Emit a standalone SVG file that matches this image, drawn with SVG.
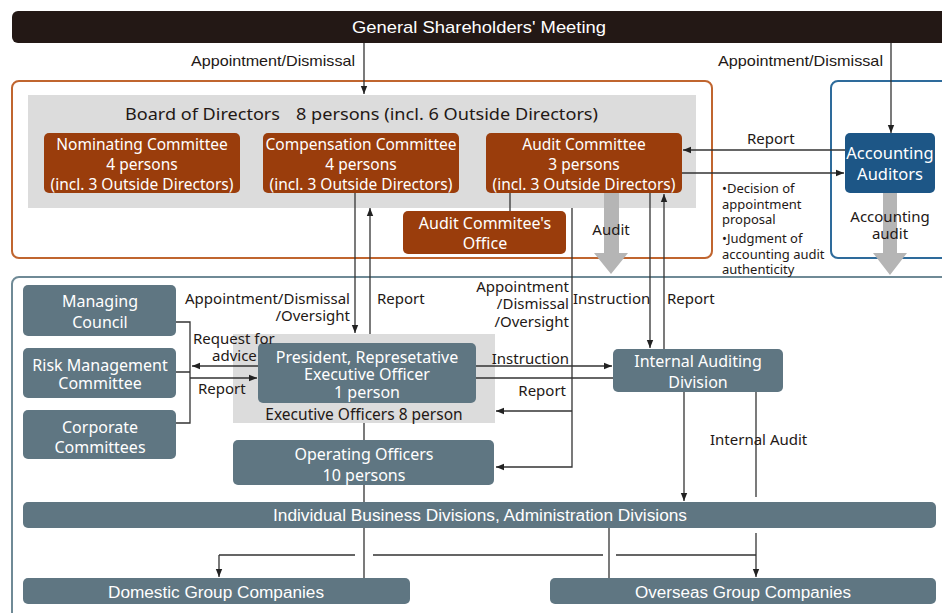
<svg xmlns="http://www.w3.org/2000/svg" width="942" height="613" viewBox="0 0 942 613">
<defs>
<marker id="ah" viewBox="0 0 10 10" refX="10" refY="5" markerWidth="8" markerHeight="8" markerUnits="userSpaceOnUse" orient="auto">
<path d="M0,1 L10,5 L0,9 Z" fill="#222"/>
</marker>
</defs>
<style>
.ln{fill:none;stroke:#333;stroke-width:1.3}
.arr{fill:none;stroke:#333;stroke-width:1.3;marker-end:url(#ah)}
.or{fill:#9a3d0c}
.sl{fill:#5f7682}
.wt{fill:#fff;font-family:"Noto Sans","Liberation Sans",sans-serif;font-size:16px;text-anchor:middle}
.ow{font-size:15.5px}
.dk{fill:#231815;font-family:"Noto Sans","Liberation Sans",sans-serif;font-size:15px}
.bl{font-size:13px}
.cn{font-family:"Liberation Sans",Arial,sans-serif;font-size:16px}
.mid{text-anchor:middle}
.end{text-anchor:end}
.ga{fill:#b5b5b5}
</style>

<g id="shareholders">
<rect x="12" y="11" width="940" height="32" rx="6" fill="#231815"/>
<text class="cn mid" x="479" y="33" fill="#fff" style="font-size:17px" textLength="254" lengthAdjust="spacingAndGlyphs">General Shareholders' Meeting</text>
</g>

<g id="board-frame">
<rect x="12" y="81" width="700" height="177" rx="7" fill="none" stroke="#c0652f" stroke-width="2"/>
<rect x="28" y="95" width="668" height="113" fill="#dcdcdc"/>
<text class="dk" x="125" y="120" style="font-size:17px" textLength="155" lengthAdjust="spacingAndGlyphs">Board of Directors</text>
<text class="dk" x="296" y="120" style="font-size:17px" textLength="302" lengthAdjust="spacingAndGlyphs">8 persons (incl. 6 Outside Directors)</text>
</g>

<g id="auditor-frame">
<rect x="831" y="81" width="130" height="177" rx="7" fill="none" stroke="#2e6b9b" stroke-width="2"/>
</g>

<g id="exec-frame">
<rect x="12" y="277" width="950" height="350" rx="7" fill="none" stroke="#6f8a96" stroke-width="2"/>
</g>

<g id="gray-arrows">
<polygon class="ga" points="604,193 619,193 619,253 628,253 611,274 594,253 604,253"/>
<polygon class="ga" points="883,193 897,193 897,253 907,253 890,275 873,253 883,253"/>
</g>

<g id="nominating">
<rect class="or" x="44" y="133" width="196" height="60" rx="5"/>
<text class="wt ow" x="142" y="149.5">Nominating Committee</text>
<text class="wt ow" x="142" y="169.5">4 persons</text>
<text class="wt ow" x="142" y="189.5">(incl. 3 Outside Directors)</text>
</g>
<g id="compensation">
<rect class="or" x="263" y="133" width="196" height="60" rx="5"/>
<text class="wt ow" x="361" y="149.5">Compensation Committee</text>
<text class="wt ow" x="361" y="169.5">4 persons</text>
<text class="wt ow" x="361" y="189.5">(incl. 3 Outside Directors)</text>
</g>
<g id="audit-committee">
<rect class="or" x="486" y="133" width="196" height="60" rx="5"/>
<text class="wt ow" x="584" y="149.5">Audit Committee</text>
<text class="wt ow" x="584" y="169.5">3 persons</text>
<text class="wt ow" x="584" y="189.5">(incl. 3 Outside Directors)</text>
</g>
<g id="audit-office">
<rect class="or" x="403" y="211" width="163" height="43" rx="5"/>
<text class="wt" x="485" y="228.5">Audit Commitee's</text>
<text class="wt" x="485" y="248.5">Office</text>
</g>
<g id="accounting-auditors">
<rect x="845" y="133" width="90" height="60" rx="5" fill="#1d5686"/>
<text class="wt" x="890" y="159" style="font-size:16.5px">Accounting</text>
<text class="wt" x="890" y="180" style="font-size:16.5px">Auditors</text>
</g>

<g id="managing-council">
<rect class="sl" x="23" y="285" width="153" height="51" rx="5"/>
<text class="wt" x="100" y="306.5">Managing</text>
<text class="wt" x="100" y="327.5">Council</text>
</g>
<g id="risk-management">
<rect class="sl" x="23" y="348" width="153" height="50" rx="5"/>
<text class="wt" x="100" y="370.5">Risk Management</text>
<text class="wt" x="100" y="388.5">Committee</text>
</g>
<g id="corporate-committees">
<rect class="sl" x="23" y="410" width="153" height="49" rx="5"/>
<text class="wt" x="100" y="432.5">Corporate</text>
<text class="wt" x="100" y="452.5">Committees</text>
</g>

<g id="executive-officers">
<rect x="233" y="334" width="262" height="89" fill="#dcdcdc"/>
<text class="dk mid" x="364" y="419.5" style="font-size:15.5px">Executive Officers 8 person</text>
</g>
<g id="president">
<rect class="sl" x="258" y="343" width="218" height="60" rx="5"/>
<text class="wt" x="367" y="362.5">President, Represetative</text>
<text class="wt" x="367" y="379.5">Executive Officer</text>
<text class="wt" x="367" y="397.5">1 person</text>
</g>
<g id="operating-officers">
<rect class="sl" x="233" y="440" width="261" height="45" rx="5"/>
<text class="wt" x="364" y="459.5">Operating Officers</text>
<text class="wt" x="364" y="480.5">10 persons</text>
</g>
<g id="internal-auditing">
<rect class="sl" x="613" y="349" width="170" height="43" rx="5"/>
<text class="wt" x="698" y="366.5">Internal Auditing</text>
<text class="wt" x="698" y="387.5">Division</text>
</g>

<g id="connectors">
<path class="arr" d="M364,43 V94"/>
<path class="arr" d="M891,43 V133"/>
<path class="arr" d="M845,150 H683"/>
<path class="arr" d="M682,173 H844"/>
<path class="ln" d="M510,193 V211"/>
<path class="arr" d="M355,193 V333"/>
<path class="arr" d="M370,334 V208"/>
<path class="arr" d="M572,208 V467 H496"/>
<path class="arr" d="M572,411 H496"/>
<path class="arr" d="M650,193 V348"/>
<path class="arr" d="M664,349 V194"/>
<path class="arr" d="M476,366 H612"/>
<path class="ln" d="M476,378 H613"/>
<path class="arr" d="M258,366 H192"/>
<path class="arr" d="M190,378 H257"/>
<path class="ln" d="M176,322 H190 V423 H176 M176,372 H190"/>
<path class="ln" d="M364,423 V440"/>
<path class="ln" d="M364,485 V578"/>
<path class="arr" d="M684,392 V501"/>
<path class="ln" d="M756,392 V497"/>
<path class="arr" d="M756,533 V577"/>
<path class="ln" d="M756,555 H616 M603,555 H373 M355,555 H219"/>
<path class="arr" d="M219,555 V577"/>
<path class="ln" d="M609,528 V578"/>
</g>

<g id="divisions">
<rect class="sl" x="23" y="502" width="913" height="26" rx="5"/>
<text class="cn mid" x="480" y="521" fill="#fff" textLength="414" lengthAdjust="spacingAndGlyphs">Individual Business Divisions, Administration Divisions</text>
</g>
<g id="domestic">
<rect class="sl" x="23" y="578" width="387" height="26" rx="5"/>
<text class="cn mid" x="216" y="598" fill="#fff" textLength="216" lengthAdjust="spacingAndGlyphs">Domestic Group Companies</text>
</g>
<g id="overseas">
<rect class="sl" x="550" y="578" width="386" height="26" rx="5"/>
<text class="cn mid" x="743" y="598" fill="#fff" textLength="216" lengthAdjust="spacingAndGlyphs">Overseas Group Companies</text>
</g>

<g id="labels">
<text class="cn" x="191" y="66" fill="#231815" style="font-size:15px" textLength="164" lengthAdjust="spacingAndGlyphs">Appointment/Dismissal</text>
<text class="cn" x="718" y="66" fill="#231815" style="font-size:15px" textLength="165" lengthAdjust="spacingAndGlyphs">Appointment/Dismissal</text>
<text class="dk" x="747" y="144">Report</text>
<text class="dk bl" x="722" y="192.5">•Decision of</text>
<text class="dk bl" x="722" y="208.5">appointment</text>
<text class="dk bl" x="722" y="223.5">proposal</text>
<text class="dk bl" x="722" y="242.5">•Judgment of</text>
<text class="dk bl" x="722" y="258.5">accounting audit</text>
<text class="dk bl" x="722" y="274">authenticity</text>
<text class="dk mid" x="611" y="235">Audit</text>
<text class="dk mid" x="890" y="222">Accounting</text>
<text class="dk mid" x="890" y="239">audit</text>
<text class="dk end" x="350" y="304">Appointment/Dismissal</text>
<text class="dk end" x="350" y="321">/Oversight</text>
<text class="dk" x="377" y="304">Report</text>
<text class="dk end" x="569" y="292">Appointment</text>
<text class="dk end" x="569" y="309">/Dismissal</text>
<text class="dk end" x="569" y="327">/Oversight</text>
<text class="dk" x="573" y="304">Instruction</text>
<text class="dk" x="667" y="304">Report</text>
<text class="dk" x="193" y="344">Request for</text>
<text class="dk" x="212" y="361">advice</text>
<text class="dk" x="198" y="394">Report</text>
<text class="dk end" x="569" y="364">Instruction</text>
<text class="dk end" x="566" y="396">Report</text>
<text class="dk" x="710" y="445">Internal Audit</text>
</g>
</svg>
